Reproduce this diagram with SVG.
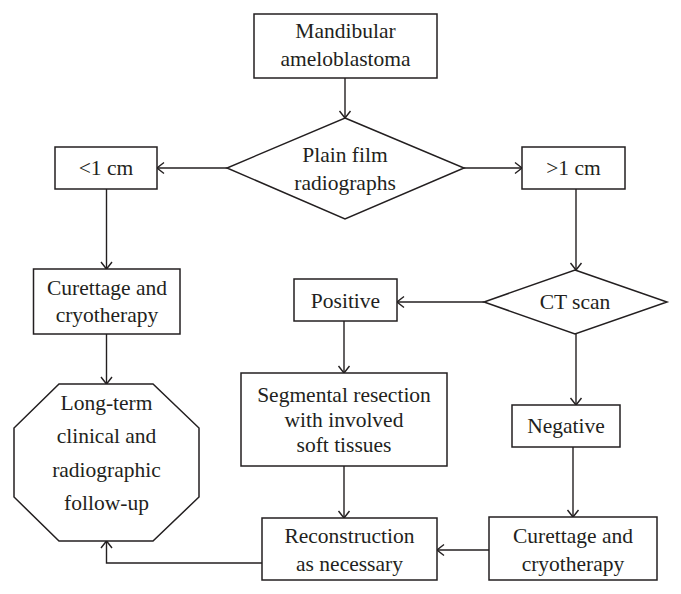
<svg xmlns="http://www.w3.org/2000/svg" width="681" height="594" viewBox="0 0 681 594">
<style>
.s{fill:#fff;stroke:#231f20;stroke-width:1.5}
.c{fill:none;stroke:#231f20;stroke-width:1.4}
text{font-family:"Liberation Serif","Times New Roman",serif;font-size:21.5px;fill:#231f20;text-anchor:middle}
</style>
<defs>
<marker id="a" markerUnits="userSpaceOnUse" markerWidth="14" markerHeight="14" refX="10" refY="7" orient="auto">
<polyline points="3,1.5 10,7 3,12.5" fill="none" stroke="#231f20" stroke-width="1.4"/>
</marker>
</defs>
<rect width="681" height="594" fill="#fff"/>
<g id="connectors">
<line class="c" x1="345" y1="78" x2="345" y2="118" marker-end="url(#a)"/>
<line class="c" x1="227" y1="168" x2="157" y2="168" marker-end="url(#a)"/>
<line class="c" x1="464" y1="168" x2="522" y2="168" marker-end="url(#a)"/>
<line class="c" x1="106.5" y1="189" x2="106.5" y2="269" marker-end="url(#a)"/>
<line class="c" x1="576" y1="189" x2="576" y2="270" marker-end="url(#a)"/>
<line class="c" x1="484" y1="302" x2="397" y2="302" marker-end="url(#a)"/>
<line class="c" x1="344" y1="321" x2="344" y2="373" marker-end="url(#a)"/>
<line class="c" x1="106.5" y1="334" x2="106.5" y2="384" marker-end="url(#a)"/>
<line class="c" x1="576" y1="334" x2="576" y2="405" marker-end="url(#a)"/>
<line class="c" x1="344" y1="466" x2="344" y2="518" marker-end="url(#a)"/>
<line class="c" x1="573" y1="447" x2="573" y2="517" marker-end="url(#a)"/>
<line class="c" x1="489" y1="550" x2="437" y2="550" marker-end="url(#a)"/>
<polyline class="c" points="262,563 106.5,563 106.5,541" marker-end="url(#a)"/>
</g>
<g id="mandibular">
<rect class="s" x="254" y="14" width="183" height="64"/>
<text x="345.5" y="38">Mandibular</text>
<text x="345.5" y="66">ameloblastoma</text>
</g>
<g id="plainfilm">
<polygon class="s" points="345,118 464,168 345,219 227,168"/>
<text x="345" y="162">Plain film</text>
<text x="345" y="190">radiographs</text>
</g>
<g id="lt1">
<rect class="s" x="55" y="147" width="102" height="42"/>
<text x="106" y="175">&lt;1 cm</text>
</g>
<g id="gt1">
<rect class="s" x="522" y="147" width="103" height="42"/>
<text x="573.5" y="175">&gt;1 cm</text>
</g>
<g id="curettage1">
<rect class="s" x="33.5" y="269" width="146.5" height="65"/>
<text x="107" y="295">Curettage and</text>
<text x="107" y="322">cryotherapy</text>
</g>
<g id="ctscan">
<polygon class="s" points="575,270 667,302 575,334 484,302"/>
<text x="575" y="309">CT scan</text>
</g>
<g id="positive">
<rect class="s" x="294" y="279" width="103" height="42"/>
<text x="345.5" y="308">Positive</text>
</g>
<g id="followup">
<polygon class="s" points="59,384 153,384 199,428 199,497 153,541 59,541 14,497 14,428"/>
<text x="106.5" y="410">Long-term</text>
<text x="106.5" y="443">clinical and</text>
<text x="106.5" y="477">radiographic</text>
<text x="106.5" y="510">follow-up</text>
</g>
<g id="segmental">
<rect class="s" x="241" y="373" width="206" height="93"/>
<text x="344" y="402">Segmental resection</text>
<text x="344" y="427">with involved</text>
<text x="344" y="452">soft tissues</text>
</g>
<g id="negative">
<rect class="s" x="512" y="405" width="108" height="42"/>
<text x="566" y="433">Negative</text>
</g>
<g id="reconstruction">
<rect class="s" x="262" y="518" width="175" height="62"/>
<text x="349.5" y="543">Reconstruction</text>
<text x="349.5" y="571">as necessary</text>
</g>
<g id="curettage2">
<rect class="s" x="489" y="517" width="168" height="63"/>
<text x="573" y="543">Curettage and</text>
<text x="573" y="571">cryotherapy</text>
</g>
</svg>
